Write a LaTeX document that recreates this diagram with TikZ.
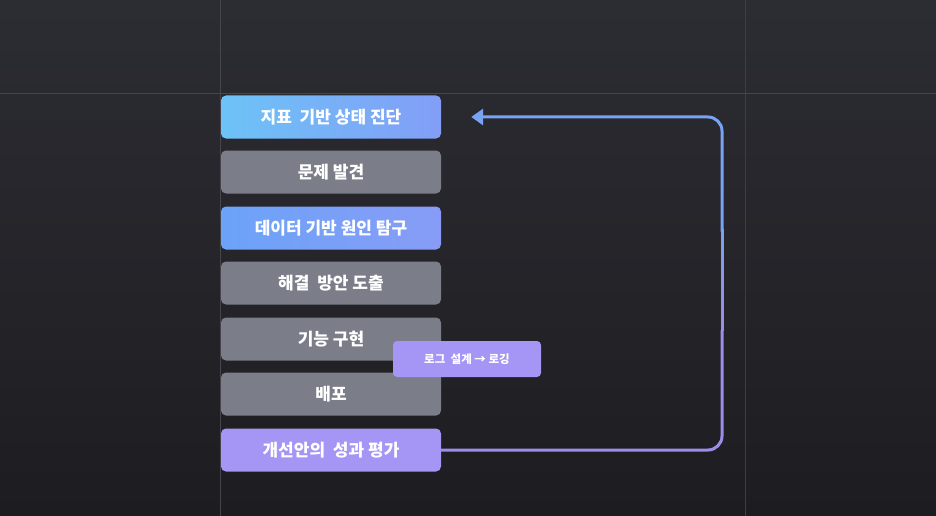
\documentclass[tikz,border=0pt]{standalone}
\usepackage{fontspec}
\setmainfont{Noto Sans CJK KR}
\usetikzlibrary{positioning,arrows.meta}
\definecolor{bgTop}{HTML}{2C2C33}
\definecolor{bgBot}{HTML}{1D1D21}
\definecolor{stepGray}{HTML}{7B7E89}
\definecolor{stepSky}{HTML}{6DC3F7}
\definecolor{stepBlue}{HTML}{6BA3F8}
\definecolor{stepViolet}{HTML}{A595F5}
\definecolor{loopTop}{HTML}{78A2F2}
\definecolor{loopBot}{HTML}{9A8EE8}
\tikzset{
  stepBox/.style={rounded corners=5pt, minimum width=220pt, minimum height=43pt,
    text=white, font=\bfseries\fontsize{17}{19}\selectfont, inner sep=0pt},
  grayStep/.style={stepBox, fill=stepGray},
  tag/.style={rounded corners=4pt, fill=stepViolet, text=white,
    minimum width=148pt, minimum height=36pt, font=\bfseries\fontsize{11.5}{13}\selectfont},
  loop/.style={line width=3pt, rounded corners=14pt}
}
\begin{document}
\begin{tikzpicture}[x=1pt,y=-1pt]
    \shade[top color=bgTop, bottom color=bgBot] (0,0) rectangle (936,516);
    \useasboundingbox (0,0) rectangle (936,516);
    % faint guide lines
    \draw[white!12!bgTop, line width=0.8pt] (220,0) -- (220,516);
    \draw[white!8!bgTop, line width=0.8pt] (745,0) -- (745,516);
    \draw[white!12!bgTop, line width=0.8pt] (0,93) -- (936,93);
    % steps
    \node[stepBox, left color=stepSky, right color=stepBlue!60!stepViolet] (diagnose) at (331,117) {지표 \ 기반 상태 진단};
    \node[grayStep] (problem) at (331,172) {문제 발견};
    \node[stepBox, left color=stepBlue, right color=stepBlue!50!stepViolet] (cause) at (331,228) {데이터 기반 원인 탐구};
    \node[grayStep] (solution) at (331,283) {해결 \ 방안 도출};
    \node[grayStep] (build) at (331,339) {기능 구현};
    \node[grayStep] (deploy) at (331,394) {배포};
    \node[stepBox, fill=stepViolet] (evaluate) at (331,450) {개선안의 \ 성과 평가};
    \node[tag] (logging) at (467,359) {로그 \ 설계 → 로깅};
    % feedback loop
    \coordinate (loopBottom) at (722,450);
    \coordinate (loopTop) at (722,117);
    \draw[loop, loopBot] (evaluate.east) -- (loopBottom) -- (722,330);
    \foreach \i in {0,...,9}
      \draw[line width=3pt, loopTop!\i0!loopBot] (722,{331-\i*10}) -- (722,{319-\i*10});
    \draw[loop, loopTop, -{Triangle[length=12pt,width=16pt]}] (722,232) -- (loopTop) -- ([xshift=30pt]diagnose.east);
\end{tikzpicture}
\end{document}
